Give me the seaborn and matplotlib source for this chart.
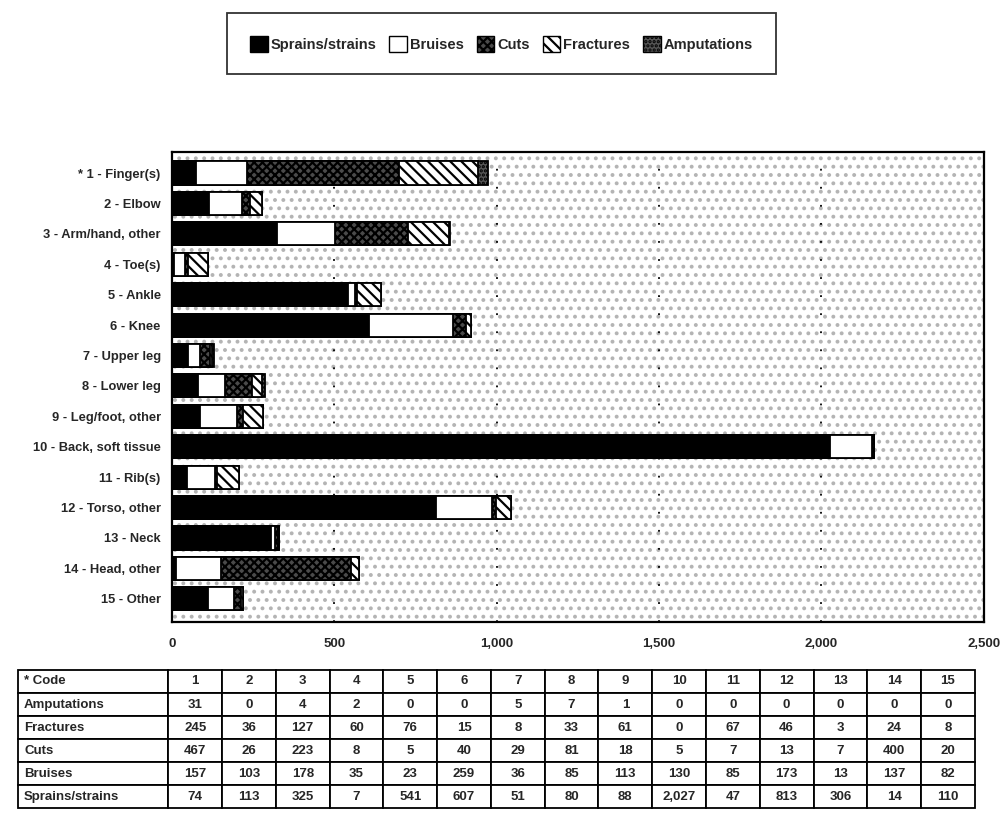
import numpy as np
import pandas as pd
import matplotlib
matplotlib.use("Agg")
import matplotlib.pyplot as plt
from matplotlib.patches import Patch, Rectangle
import seaborn as sns

sns.set_theme(style="white")
plt.rcParams['font.family'] = ['Liberation Sans', 'DejaVu Sans']
plt.rcParams['font.weight'] = 'bold'
plt.rcParams['hatch.linewidth'] = 1.6

body_parts = ["* 1 - Finger(s)", "2 - Elbow", "3 - Arm/hand, other", "4 - Toe(s)",
              "5 - Ankle", "6 - Knee", "7 - Upper leg", "8 - Lower leg",
              "9 - Leg/foot, other", "10 - Back, soft tissue", "11 - Rib(s)",
              "12 - Torso, other", "13 - Neck", "14 - Head, other", "15 - Other"]
codes = [str(i) for i in range(1, 16)]

sprains = [74, 113, 325, 7, 541, 607, 51, 80, 88, 2027, 47, 813, 306, 14, 110]
bruises = [157, 103, 178, 35, 23, 259, 36, 85, 113, 130, 85, 173, 13, 137, 82]
cuts = [467, 26, 223, 8, 5, 40, 29, 81, 18, 5, 7, 13, 7, 400, 20]
fractures = [245, 36, 127, 60, 76, 15, 8, 33, 61, 0, 67, 46, 3, 24, 8]
amputations = [31, 0, 4, 2, 0, 0, 5, 7, 1, 0, 0, 0, 0, 0, 0]

xticks = [0, 500, 1000, 1500, 2000, 2500]
xtick_labels = ["0", "500", "1,000", "1,500", "2,000", "2,500"]

# stacking order left -> right, with fill styles
series = [
    ("Sprains/strains", sprains, dict(facecolor="black", hatch=None)),
    ("Bruises", bruises, dict(facecolor="white", hatch=None)),
    ("Cuts", cuts, dict(facecolor="#4a4a4a", hatch="xxxx")),
    ("Fractures", fractures, dict(facecolor="white", hatch="\\\\\\")),
    ("Amputations", amputations, dict(facecolor="#555555", hatch="....")),
]

df = pd.DataFrame({name: vals for name, vals, _ in series}, index=body_parts)
cum = df.cumsum(axis=1)

fig = plt.figure(figsize=(10.05, 8.19), dpi=100)
ax = fig.add_axes([0.171, 0.241, 0.808, 0.573])

# stippled background
bg = Rectangle((0, 0), 1, 1, transform=ax.transAxes, facecolor="white",
               edgecolor="#b4b4b4", hatch="..", lw=0, zorder=0)
ax.add_patch(bg)
ax.patch.set_alpha(0)

for x in xticks[1:-1]:
    ax.axvline(x, color="black", lw=1.3, ls=(0, (1, 9)), zorder=0.5)

# draw cumulative layers from the widest down so each segment shows
for name, _, style in reversed(series):
    sns.barplot(x=cum[name].values, y=body_parts, orient="h", ax=ax,
                color=style["facecolor"], width=0.76, saturation=1,
                edgecolor="black", linewidth=1.3, hatch=style["hatch"],
                zorder=2)

ax.set_xlim(0, 2500)
ax.set_ylim(14.75, -0.68)
ax.set_xticks(xticks)
ax.set_xticklabels(xtick_labels, fontsize=9.5, fontweight="bold")
ax.tick_params(axis="x", length=0, pad=12)
ax.tick_params(axis="y", length=0, pad=8, labelsize=9.3)
for lab in ax.get_yticklabels():
    lab.set_fontweight("bold")
ax.set_xlabel("")
ax.set_ylabel("")
for sp in ax.spines.values():
    sp.set_visible(True)
    sp.set_color("black")
    sp.set_linewidth(1.6)

# legend
handles = [Patch(facecolor=style["facecolor"], edgecolor="black",
                 hatch=style["hatch"], lw=1.0, label=name)
           for name, _, style in series]
leg = fig.legend(handles=handles, loc="upper center", bbox_to_anchor=(0.499, 0.984),
                 ncol=5, frameon=True, fancybox=False, edgecolor="black",
                 handlelength=1.2, handleheight=1.3,
                 handletextpad=0.2, columnspacing=0.9, borderpad=1.55,
                 borderaxespad=0, prop={"weight": "bold", "size": 10.5})
leg.get_frame().set_linewidth(1.3)

# data table
tax = fig.add_axes([0.018, 0.013, 0.952, 0.169])
tax.axis("off")
row_names = ["Amputations", "Fractures", "Cuts", "Bruises", "Sprains/strains"]
row_vals = [amputations, fractures, cuts, bruises, sprains]
cell_text = [["* Code"] + codes]
for nm, vals in zip(row_names, row_vals):
    cell_text.append([nm] + [f"{v:,}" for v in vals])
first_w = 0.157
col_w = [first_w] + [(1 - first_w) / 15] * 15
tbl = tax.table(cellText=cell_text, colWidths=col_w, bbox=[0, 0, 1, 1],
                cellLoc="center")
tbl.auto_set_font_size(False)
for (r, c), cell in tbl.get_celld().items():
    cell.set_linewidth(1.3)
    cell.set_edgecolor("black")
    cell.get_text().set_fontsize(9.5)
    cell.get_text().set_fontweight("bold")
    if c == 0:
        cell.get_text().set_horizontalalignment("left")
        cell.PAD = 0.04

fig.savefig("out.png", dpi=100)
